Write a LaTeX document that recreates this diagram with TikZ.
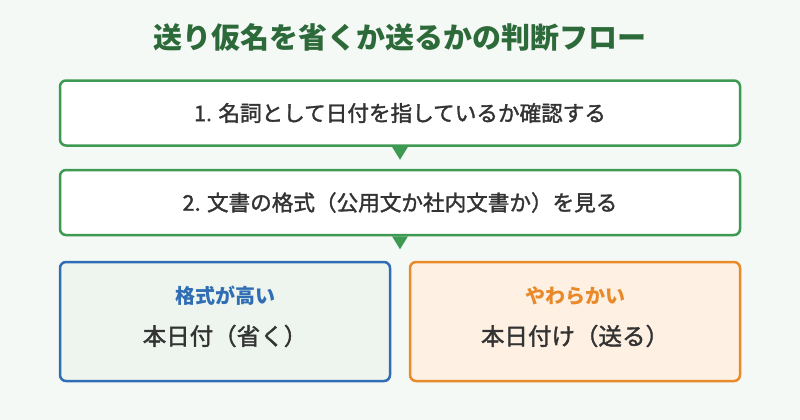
\documentclass[tikz,border=0pt]{standalone}
\usepackage{fontspec}
\setmainfont{Noto Sans CJK JP}
\newfontfamily\medfont[FakeBold=1.6]{Noto Sans CJK JP}
\definecolor{bgc}{HTML}{F5F9F6}
\definecolor{titleg}{HTML}{2D6A3A}
\definecolor{boxg}{HTML}{3E9A52}
\definecolor{txt}{HTML}{333333}
\definecolor{blueb}{HTML}{2F6DB5}
\definecolor{bluefill}{HTML}{EDF5EE}
\definecolor{orangeb}{HTML}{E8892A}
\definecolor{orangefill}{HTML}{FEF1E3}
\tikzset{
  stepbox/.style={draw=boxg, line width=2.5pt, fill=white, rounded corners=6pt,
    minimum width=680pt, minimum height=65pt, inner sep=0pt, font=\medfont\fontsize{21.6}{25}\selectfont, text=txt},
  resbox/.style={line width=2.5pt, rounded corners=6pt, minimum width=330pt, minimum height=119pt, inner sep=0pt},
  tri/.style={fill=boxg, draw=none},
  head/.style={font=\fontsize{20}{24}\selectfont\bfseries},
  res/.style={font=\medfont\fontsize{23.5}{27}\selectfont, text=txt}
}
\begin{document}
\begin{tikzpicture}[x=1pt,y=-1pt]
\useasboundingbox[fill=bgc] (0,0) rectangle (800,420);
\node[font=\fontsize{29}{33}\selectfont\bfseries, text=titleg] (title) at (400,37) {送り仮名を省くか送るかの判断フロー};
\node[stepbox] (s1) at (400,113) {1. 名詞として日付を指しているか確認する};
\node[stepbox] (s2) at (400,202.5) {2. 文書の格式（公用文か社内文書か）を見る};
\node[resbox, draw=blueb, fill=bluefill] (l) at (225,321.5) {};
\node[resbox, draw=orangeb, fill=orangefill] (r) at (575,321.5) {};
\node[head, text=blueb] (lh) at (225,296) {格式が高い};
\node[res] (lt) at (225,336) {本日付（省く）};
\node[head, text=orangeb] (rh) at (575,296) {やわらかい};
\node[res] (rt) at (575,336) {本日付け（送る）};
\coordinate (t1) at (s1.south);
\coordinate (t2) at (s2.south);
\fill[tri] ([xshift=-8pt]t1) -- ([xshift=8pt]t1) -- ([yshift=-13pt]t1) -- cycle;
\fill[tri] ([xshift=-8pt]t2) -- ([xshift=8pt]t2) -- ([yshift=-13pt]t2) -- cycle;
\end{tikzpicture}
\end{document}
